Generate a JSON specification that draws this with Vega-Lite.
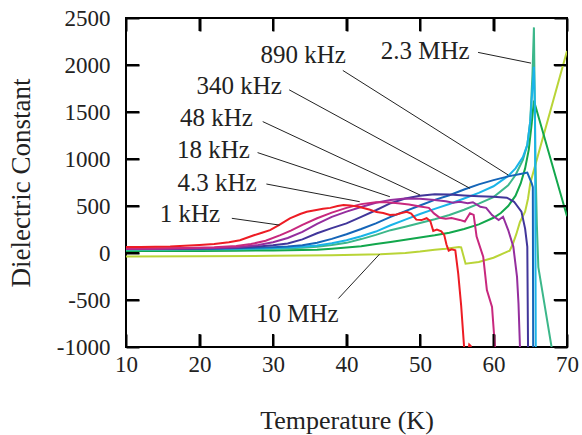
{
  "$schema": "https://vega.github.io/schema/vega-lite/v6.json",
  "width": 441,
  "height": 329,
  "autosize": "none",
  "padding": {"left": 126, "top": 18, "right": 15, "bottom": 88},
  "background": "white",
  "config": {
    "view": {"stroke": "black", "strokeWidth": 2},
    "font": "Liberation Serif",
    "axis": {
      "domain": false, "ticks": false, "grid": true, "gridColor": "black", "gridOpacity": 1, "gridWidth": 2, "zindex": 1,
      "labelFont": "Liberation Serif", "labelFontSize": 23, "labelColor": "#222",
      "titleFont": "Liberation Serif", "titleFontSize": 26, "titleFontWeight": "normal", "titleColor": "#222",
      "labelFlush": false, "labelOverlap": false, "labelExpr": "'' + datum.value"
    }
  },
  "datasets": {
    "curves": [
      {"s":"10 MHz","T":10,"v":-36},{"s":"10 MHz","T":20,"v":-35},{"s":"10 MHz","T":30,"v":-30},{"s":"10 MHz","T":38,"v":-24},{"s":"10 MHz","T":44.6,"v":-14},{"s":"10 MHz","T":48,"v":0},{"s":"10 MHz","T":50,"v":15},{"s":"10 MHz","T":52,"v":35},{"s":"10 MHz","T":53.5,"v":46},{"s":"10 MHz","T":55.3,"v":64},{"s":"10 MHz","T":55.6,"v":60},{"s":"10 MHz","T":56.2,"v":-114},{"s":"10 MHz","T":58,"v":-95},{"s":"10 MHz","T":60,"v":-50},{"s":"10 MHz","T":62.2,"v":25},{"s":"10 MHz","T":62.6,"v":90},{"s":"10 MHz","T":63.1,"v":200},{"s":"10 MHz","T":63.6,"v":330},{"s":"10 MHz","T":64.3,"v":440},{"s":"10 MHz","T":64.7,"v":580},{"s":"10 MHz","T":65,"v":742},{"s":"10 MHz","T":70,"v":2150},
      {"s":"green","T":10,"v":20},{"s":"green","T":15,"v":21},{"s":"green","T":20,"v":22},{"s":"green","T":25,"v":24},{"s":"green","T":30,"v":27},{"s":"green","T":34,"v":31},{"s":"green","T":36,"v":35},{"s":"green","T":38,"v":45},{"s":"green","T":40,"v":58},{"s":"green","T":42,"v":72},{"s":"green","T":44,"v":95},{"s":"green","T":46,"v":118},{"s":"green","T":48,"v":142},{"s":"green","T":50,"v":165},{"s":"green","T":52,"v":188},{"s":"green","T":54,"v":215},{"s":"green","T":56,"v":255},{"s":"green","T":58,"v":305},{"s":"green","T":60,"v":375},{"s":"green","T":61,"v":425},{"s":"green","T":62,"v":500},{"s":"green","T":63,"v":610},{"s":"green","T":63.7,"v":740},{"s":"green","T":64.3,"v":900},{"s":"green","T":64.8,"v":1100},{"s":"green","T":65.2,"v":1380},{"s":"green","T":65.5,"v":1620},{"s":"green","T":70,"v":390},
      {"s":"2.3 MHz","T":10,"v":31},{"s":"2.3 MHz","T":15,"v":32},{"s":"2.3 MHz","T":20,"v":34},{"s":"2.3 MHz","T":25,"v":38},{"s":"2.3 MHz","T":30,"v":45},{"s":"2.3 MHz","T":34,"v":55},{"s":"2.3 MHz","T":36,"v":66},{"s":"2.3 MHz","T":38,"v":85},{"s":"2.3 MHz","T":40,"v":108},{"s":"2.3 MHz","T":42,"v":148},{"s":"2.3 MHz","T":44,"v":193},{"s":"2.3 MHz","T":46,"v":243},{"s":"2.3 MHz","T":48,"v":280},{"s":"2.3 MHz","T":50,"v":320},{"s":"2.3 MHz","T":52,"v":360},{"s":"2.3 MHz","T":54,"v":405},{"s":"2.3 MHz","T":56,"v":460},{"s":"2.3 MHz","T":58,"v":525},{"s":"2.3 MHz","T":60,"v":595},{"s":"2.3 MHz","T":62,"v":720},{"s":"2.3 MHz","T":63,"v":830},{"s":"2.3 MHz","T":64,"v":990},{"s":"2.3 MHz","T":64.6,"v":1150},{"s":"2.3 MHz","T":65,"v":1400},{"s":"2.3 MHz","T":65.3,"v":1900},{"s":"2.3 MHz","T":65.5,"v":2400},{"s":"2.3 MHz","T":65.7,"v":1000},{"s":"2.3 MHz","T":65.9,"v":300},{"s":"2.3 MHz","T":66.1,"v":-150},{"s":"2.3 MHz","T":67.9,"v":-1000},{"s":"2.3 MHz","T":68.1,"v":-1100},
      {"s":"890 kHz","T":10,"v":40},{"s":"890 kHz","T":15,"v":41},{"s":"890 kHz","T":20,"v":42},{"s":"890 kHz","T":25,"v":45},{"s":"890 kHz","T":30,"v":52},{"s":"890 kHz","T":33,"v":60},{"s":"890 kHz","T":36,"v":80},{"s":"890 kHz","T":38,"v":103},{"s":"890 kHz","T":40,"v":135},{"s":"890 kHz","T":42,"v":178},{"s":"890 kHz","T":44,"v":228},{"s":"890 kHz","T":46,"v":295},{"s":"890 kHz","T":48,"v":355},{"s":"890 kHz","T":50,"v":415},{"s":"890 kHz","T":52,"v":470},{"s":"890 kHz","T":54,"v":522},{"s":"890 kHz","T":56,"v":580},{"s":"890 kHz","T":58,"v":640},{"s":"890 kHz","T":60,"v":710},{"s":"890 kHz","T":62,"v":820},{"s":"890 kHz","T":63,"v":900},{"s":"890 kHz","T":64,"v":1020},{"s":"890 kHz","T":64.6,"v":1150},{"s":"890 kHz","T":65,"v":1400},{"s":"890 kHz","T":65.3,"v":1750},{"s":"890 kHz","T":65.5,"v":1980},{"s":"890 kHz","T":65.65,"v":1500},{"s":"890 kHz","T":65.75,"v":-1000},{"s":"890 kHz","T":65.8,"v":-1200},
      {"s":"340 kHz","T":10,"v":42},{"s":"340 kHz","T":14,"v":42},{"s":"340 kHz","T":18,"v":43},{"s":"340 kHz","T":22,"v":46},{"s":"340 kHz","T":26,"v":52},{"s":"340 kHz","T":30,"v":62},{"s":"340 kHz","T":32,"v":68},{"s":"340 kHz","T":34,"v":82},{"s":"340 kHz","T":36,"v":110},{"s":"340 kHz","T":38,"v":150},{"s":"340 kHz","T":40,"v":200},{"s":"340 kHz","T":42,"v":255},{"s":"340 kHz","T":44,"v":315},{"s":"340 kHz","T":46,"v":385},{"s":"340 kHz","T":48,"v":445},{"s":"340 kHz","T":50,"v":505},{"s":"340 kHz","T":52,"v":565},{"s":"340 kHz","T":54,"v":615},{"s":"340 kHz","T":56,"v":675},{"s":"340 kHz","T":58,"v":730},{"s":"340 kHz","T":60,"v":775},{"s":"340 kHz","T":62,"v":815},{"s":"340 kHz","T":64,"v":845},{"s":"340 kHz","T":64.6,"v":855},{"s":"340 kHz","T":65.2,"v":742},{"s":"340 kHz","T":65.35,"v":700},{"s":"340 kHz","T":65.4,"v":-1000},{"s":"340 kHz","T":65.45,"v":-1200},
      {"s":"48 kHz","T":10,"v":45},{"s":"48 kHz","T":14,"v":45},{"s":"48 kHz","T":18,"v":46},{"s":"48 kHz","T":22,"v":50},{"s":"48 kHz","T":25,"v":56},{"s":"48 kHz","T":28,"v":70},{"s":"48 kHz","T":30,"v":82},{"s":"48 kHz","T":32,"v":102},{"s":"48 kHz","T":34,"v":145},{"s":"48 kHz","T":36,"v":210},{"s":"48 kHz","T":38,"v":265},{"s":"48 kHz","T":40,"v":315},{"s":"48 kHz","T":42,"v":385},{"s":"48 kHz","T":44,"v":455},{"s":"48 kHz","T":46,"v":530},{"s":"48 kHz","T":48,"v":580},{"s":"48 kHz","T":50,"v":610},{"s":"48 kHz","T":52,"v":625},{"s":"48 kHz","T":54,"v":622},{"s":"48 kHz","T":56,"v":612},{"s":"48 kHz","T":58,"v":605},{"s":"48 kHz","T":60,"v":599},{"s":"48 kHz","T":61.8,"v":589},{"s":"48 kHz","T":62.8,"v":545},{"s":"48 kHz","T":63.8,"v":440},{"s":"48 kHz","T":64.3,"v":260},{"s":"48 kHz","T":64.6,"v":66},{"s":"48 kHz","T":64.7,"v":-1000},{"s":"48 kHz","T":64.8,"v":-1200},
      {"s":"18 kHz","T":10,"v":46},{"s":"18 kHz","T":14,"v":46},{"s":"18 kHz","T":18,"v":48},{"s":"18 kHz","T":22,"v":54},{"s":"18 kHz","T":25,"v":62},{"s":"18 kHz","T":28,"v":85},{"s":"18 kHz","T":30,"v":115},{"s":"18 kHz","T":32,"v":160},{"s":"18 kHz","T":34,"v":225},{"s":"18 kHz","T":36,"v":310},{"s":"18 kHz","T":38,"v":385},{"s":"18 kHz","T":40,"v":440},{"s":"18 kHz","T":42,"v":490},{"s":"18 kHz","T":44,"v":535},{"s":"18 kHz","T":46,"v":565},{"s":"18 kHz","T":48,"v":580},{"s":"18 kHz","T":50,"v":578},{"s":"18 kHz","T":52,"v":565},{"s":"18 kHz","T":53.5,"v":550},{"s":"18 kHz","T":54.5,"v":535},{"s":"18 kHz","T":55.4,"v":546},{"s":"18 kHz","T":56.5,"v":530},{"s":"18 kHz","T":57.2,"v":540},{"s":"18 kHz","T":58.2,"v":492},{"s":"18 kHz","T":59,"v":480},{"s":"18 kHz","T":59.8,"v":404},{"s":"18 kHz","T":60.7,"v":351},{"s":"18 kHz","T":61.3,"v":386},{"s":"18 kHz","T":62,"v":244},{"s":"18 kHz","T":62.7,"v":66},{"s":"18 kHz","T":63.2,"v":-254},{"s":"18 kHz","T":63.4,"v":-537},{"s":"18 kHz","T":63.6,"v":-1000},{"s":"18 kHz","T":63.8,"v":-1200},
      {"s":"4.3 kHz","T":10,"v":48},{"s":"4.3 kHz","T":14,"v":48},{"s":"4.3 kHz","T":18,"v":52},{"s":"4.3 kHz","T":22,"v":60},{"s":"4.3 kHz","T":25,"v":75},{"s":"4.3 kHz","T":27,"v":95},{"s":"4.3 kHz","T":29,"v":130},{"s":"4.3 kHz","T":31,"v":190},{"s":"4.3 kHz","T":32.5,"v":240},{"s":"4.3 kHz","T":34,"v":300},{"s":"4.3 kHz","T":36,"v":370},{"s":"4.3 kHz","T":38,"v":430},{"s":"4.3 kHz","T":40,"v":480},{"s":"4.3 kHz","T":42,"v":520},{"s":"4.3 kHz","T":44,"v":540},{"s":"4.3 kHz","T":45.5,"v":540},{"s":"4.3 kHz","T":47,"v":530},{"s":"4.3 kHz","T":48.5,"v":515},{"s":"4.3 kHz","T":50,"v":495},{"s":"4.3 kHz","T":51.2,"v":480},{"s":"4.3 kHz","T":51.9,"v":421},{"s":"4.3 kHz","T":52.7,"v":375},{"s":"4.3 kHz","T":53.5,"v":365},{"s":"4.3 kHz","T":54.3,"v":372},{"s":"4.3 kHz","T":55.4,"v":352},{"s":"4.3 kHz","T":56.1,"v":335},{"s":"4.3 kHz","T":56.8,"v":422},{"s":"4.3 kHz","T":57.3,"v":405},{"s":"4.3 kHz","T":57.7,"v":175},{"s":"4.3 kHz","T":58.6,"v":-40},{"s":"4.3 kHz","T":59.1,"v":-395},{"s":"4.3 kHz","T":59.8,"v":-575},{"s":"4.3 kHz","T":60.2,"v":-1000},{"s":"4.3 kHz","T":60.4,"v":-1200},
      {"s":"1 kHz","T":10,"v":64},{"s":"1 kHz","T":12,"v":64},{"s":"1 kHz","T":14,"v":66},{"s":"1 kHz","T":16,"v":70},{"s":"1 kHz","T":18,"v":78},{"s":"1 kHz","T":20,"v":85},{"s":"1 kHz","T":22,"v":95},{"s":"1 kHz","T":24,"v":115},{"s":"1 kHz","T":25.5,"v":136},{"s":"1 kHz","T":27.4,"v":189},{"s":"1 kHz","T":28.5,"v":215},{"s":"1 kHz","T":29.6,"v":243},{"s":"1 kHz","T":30.8,"v":296},{"s":"1 kHz","T":32.3,"v":369},{"s":"1 kHz","T":33.7,"v":415},{"s":"1 kHz","T":34.6,"v":439},{"s":"1 kHz","T":35.9,"v":457},{"s":"1 kHz","T":36.8,"v":470},{"s":"1 kHz","T":37.8,"v":480},{"s":"1 kHz","T":38.8,"v":500},{"s":"1 kHz","T":39.6,"v":510},{"s":"1 kHz","T":40.5,"v":505},{"s":"1 kHz","T":41.5,"v":495},{"s":"1 kHz","T":42.3,"v":478},{"s":"1 kHz","T":43.2,"v":460},{"s":"1 kHz","T":44.1,"v":435},{"s":"1 kHz","T":45,"v":425},{"s":"1 kHz","T":45.9,"v":404},{"s":"1 kHz","T":46.8,"v":410},{"s":"1 kHz","T":47.5,"v":425},{"s":"1 kHz","T":48.2,"v":439},{"s":"1 kHz","T":48.8,"v":420},{"s":"1 kHz","T":49.5,"v":355},{"s":"1 kHz","T":50.2,"v":350},{"s":"1 kHz","T":50.9,"v":370},{"s":"1 kHz","T":51.4,"v":340},{"s":"1 kHz","T":51.8,"v":235},{"s":"1 kHz","T":52.3,"v":250},{"s":"1 kHz","T":52.9,"v":230},{"s":"1 kHz","T":53.3,"v":190},{"s":"1 kHz","T":53.6,"v":90},{"s":"1 kHz","T":53.9,"v":25},{"s":"1 kHz","T":54.3,"v":40},{"s":"1 kHz","T":54.8,"v":30},{"s":"1 kHz","T":55.2,"v":-220},{"s":"1 kHz","T":55.6,"v":-560},{"s":"1 kHz","T":56,"v":-1000},{"s":"1 kHz","T":56.2,"v":-1200},{"s":"1 kHz","T":56.5,"v":-1100},{"s":"1 kHz","T":56.7,"v":-975},{"s":"1 kHz","T":56.9,"v":-990},{"s":"1 kHz","T":57.1,"v":-1150}
    ],
    "labels": [
      {"label":"890 kHz","T":34.1,"v":2109},
      {"label":"2.3 MHz","T":50.7,"v":2144},
      {"label":"340 kHz","T":25.4,"v":1779},
      {"label":"48 kHz","T":22.3,"v":1434},
      {"label":"18 kHz","T":21.9,"v":1097},
      {"label":"4.3 kHz","T":22.4,"v":750},
      {"label":"1 kHz","T":18.7,"v":420},
      {"label":"10 MHz","T":33.3,"v":-651}
    ],
    "leaders": [
      {"T1":24.4,"v1":369,"T2":30.9,"v2":297},
      {"T1":29.1,"v1":734,"T2":41.8,"v2":546},
      {"T1":27.9,"v1":1068,"T2":45.9,"v2":599},
      {"T1":28.6,"v1":1398,"T2":50.0,"v2":617},
      {"T1":32.2,"v1":1736,"T2":56.8,"v2":688},
      {"T1":39.5,"v1":1942,"T2":62.0,"v2":830},
      {"T1":57.9,"v1":2134,"T2":65.1,"v2":2020},
      {"T1":38.9,"v1":-484,"T2":44.5,"v2":-12}
    ],
    "xticks": [{"T":20},{"T":30},{"T":40},{"T":50},{"T":60}],
    "yticks": [{"v":-500},{"v":0},{"v":500},{"v":1000},{"v":1500},{"v":2000}]
  },
  "layer": [
    {
      "data": {"name": "curves"},
      "mark": {"type": "line", "clip": true, "strokeWidth": 2},
      "encoding": {
        "x": {"field": "T", "type": "quantitative", "scale": {"domain": [10, 70], "nice": false, "zero": false},
              "axis": {"orient": "bottom", "values": [10,20,30,40,50,60,70], "title": "Temperature (K)", "labelPadding": 6, "titlePadding": 31, "gridDash": [13, 303, 13, 200]}},
        "y": {"field": "v", "type": "quantitative", "scale": {"domain": [-1000, 2500], "nice": false, "zero": false},
              "axis": {"orient": "left", "values": [-1000,-500,0,500,1000,1500,2000,2500], "title": "Dielectric Constant", "titleFontSize": 27, "labelPadding": 16, "titlePadding": 21, "gridDash": [13, 415, 13, 200]}},
        "color": {"field": "s", "type": "nominal", "legend": null,
                  "scale": {"domain": ["10 MHz","green","2.3 MHz","890 kHz","340 kHz","48 kHz","18 kHz","4.3 kHz","1 kHz"],
                            "range": ["#b9d437","#12a74c","#3cb78a","#1ab4e8","#1565b8","#41369a","#952e9e","#c8287e","#ed1c24"]}}
      }
    },
    {
      "data": {"name": "xticks"},
      "mark": {"type": "rule", "color": "black", "strokeWidth": 2},
      "encoding": {
        "x": {"field": "T", "type": "quantitative", "scale": {"domain": [10, 70], "nice": false, "zero": false}, "axis": null},
        "y": {"datum": -1000, "type": "quantitative", "scale": {"domain": [-1000, 2500], "nice": false, "zero": false}, "axis": null},
        "y2": {"datum": -862}
      }
    },
    {
      "data": {"name": "xticks"},
      "mark": {"type": "rule", "color": "black", "strokeWidth": 2},
      "encoding": {
        "x": {"field": "T", "type": "quantitative", "scale": {"domain": [10, 70], "nice": false, "zero": false}, "axis": null},
        "y": {"datum": 2500, "type": "quantitative", "scale": {"domain": [-1000, 2500], "nice": false, "zero": false}, "axis": null},
        "y2": {"datum": 2362}
      }
    },
    {
      "data": {"name": "yticks"},
      "mark": {"type": "rule", "color": "black", "strokeWidth": 2},
      "encoding": {
        "x": {"datum": 10, "type": "quantitative", "scale": {"domain": [10, 70], "nice": false, "zero": false}, "axis": null},
        "x2": {"datum": 11.8},
        "y": {"field": "v", "type": "quantitative", "scale": {"domain": [-1000, 2500], "nice": false, "zero": false}, "axis": null}
      }
    },
    {
      "data": {"name": "yticks"},
      "mark": {"type": "rule", "color": "black", "strokeWidth": 2},
      "encoding": {
        "x": {"datum": 70, "type": "quantitative", "scale": {"domain": [10, 70], "nice": false, "zero": false}, "axis": null},
        "x2": {"datum": 68.2},
        "y": {"field": "v", "type": "quantitative", "scale": {"domain": [-1000, 2500], "nice": false, "zero": false}, "axis": null}
      }
    },
    {
      "data": {"name": "leaders"},
      "mark": {"type": "rule", "color": "#222", "strokeWidth": 1},
      "encoding": {
        "x": {"field": "T1", "type": "quantitative", "scale": {"domain": [10, 70], "nice": false, "zero": false}, "axis": null},
        "y": {"field": "v1", "type": "quantitative", "scale": {"domain": [-1000, 2500], "nice": false, "zero": false}, "axis": null},
        "x2": {"field": "T2"},
        "y2": {"field": "v2"}
      }
    },
    {
      "data": {"name": "labels"},
      "mark": {"type": "text", "font": "Liberation Serif", "fontSize": 25, "color": "#222", "align": "center", "baseline": "middle"},
      "encoding": {
        "x": {"field": "T", "type": "quantitative", "scale": {"domain": [10, 70], "nice": false, "zero": false}, "axis": null},
        "y": {"field": "v", "type": "quantitative", "scale": {"domain": [-1000, 2500], "nice": false, "zero": false}, "axis": null},
        "text": {"field": "label"}
      }
    }
  ],
  "resolve": {"axis": {"x": "independent", "y": "independent"}}
}
